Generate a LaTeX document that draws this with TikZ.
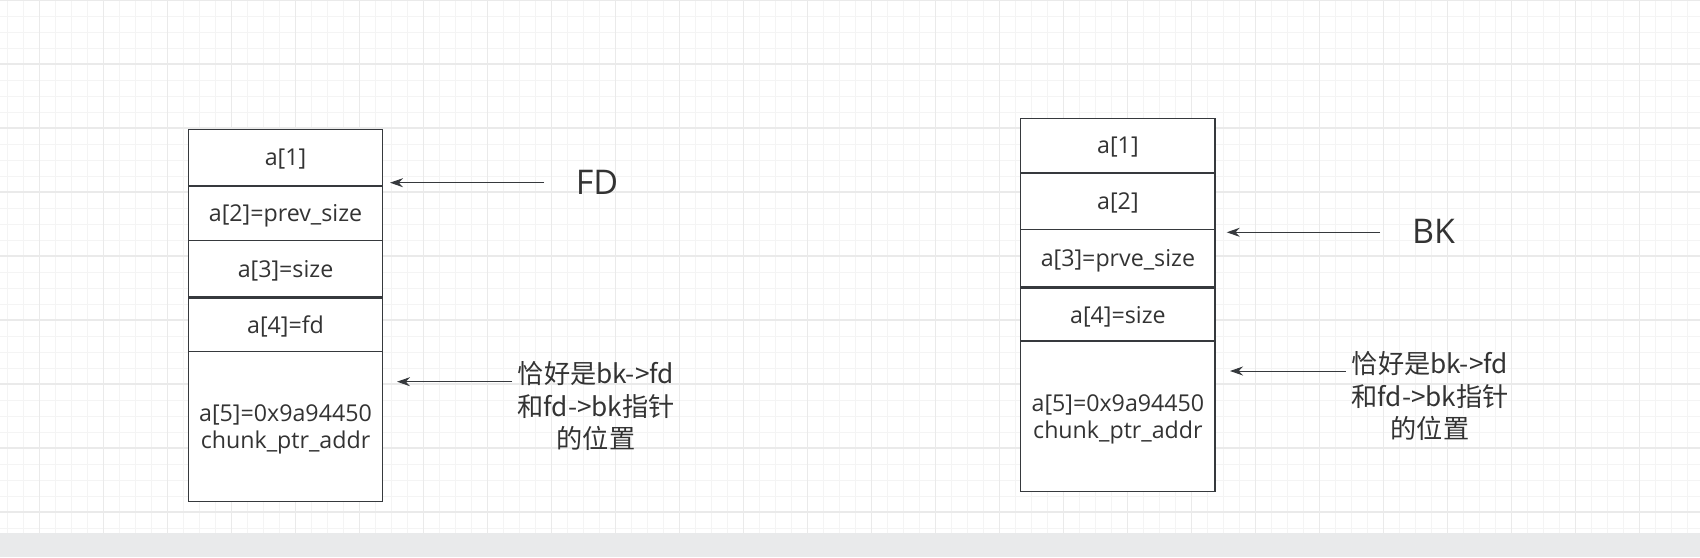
\documentclass[tikz,border=0pt]{standalone}
\usepackage{fontspec}
\setmainfont{Open Sans}
\newfontfamily\cjk{Noto Sans CJK SC}
\usetikzlibrary{arrows.meta}
\definecolor{ink}{HTML}{333333}
\definecolor{edgec}{HTML}{36393D}
\definecolor{gridminor}{HTML}{F4F4F4}
\definecolor{gridmajor}{HTML}{EAEAEA}
\definecolor{band}{HTML}{E9EAEB}
\tikzset{
  cell/.style={draw=edgec, line width=0.65pt, fill=white, inner sep=0pt, text=ink,
    font=\fontsize{11.6}{13.5}\selectfont, align=center, text depth=0pt},
  lbl/.style={text=ink, inner sep=0pt, font=\fontsize{17}{20}\selectfont},
  note/.style={text=ink, inner sep=0pt, align=center, font=\cjk\fontsize{13.1}{16.3}\selectfont},
  arr/.style={draw=edgec, line width=0.5pt, -{Stealth[length=6.5pt,width=4.5pt]}},
}
\begin{document}
\begin{tikzpicture}[x=0.5pt,y=-0.5pt]
\useasboundingbox (0,0) rectangle (1700,557);
\fill[white] (0,0) rectangle (1700,557);
% grid
\foreach \x in {7.5,23.5,...,1700} \draw[gridminor,line width=0.5pt] (\x,0) -- (\x,533);
\foreach \y in {16,32,...,533} \draw[gridminor,line width=0.5pt] (0,\y) -- (1700,\y);
\foreach \x in {39.5,103.5,...,1700} \draw[gridmajor,line width=0.75pt] (\x,0) -- (\x,533);
\foreach \y in {0,64,...,533} \draw[gridmajor,line width=0.75pt] (0,\y) -- (1700,\y);
\fill[band] (0,533) rectangle (1700,557);

% left chunk
\node[cell, minimum width=97.2pt, minimum height=28.35pt] (l1) at (285.5,157.7) {a[1]};
\node[cell, minimum width=97.2pt, minimum height=27.15pt] (l2) at (285.5,213.2) {a[2]=prev\_size};
\node[cell, minimum width=97.2pt, minimum height=28.25pt] (l3) at (285.5,268.5) {a[3]=size};
\node[cell, minimum width=97.2pt, minimum height=26.85pt] (l4) at (285.5,324.8) {a[4]=fd};
\node[cell, minimum width=97.2pt, minimum height=75pt] (l5) at (285.5,426.7) {a[5]=0x9a94450\\chunk\_ptr\_addr};

\node[lbl] (fd) at (597,182) {FD};
\coordinate (fdfrom) at (544,182.7);
\coordinate (fdto) at (390,182.7);
\draw[arr] (fdfrom) -- (fdto);

\node[note] (noteL) at (596,406) {恰好是bk->fd\\和fd->bk指针\\的位置};
\coordinate (nlfrom) at (512,381.7);
\coordinate (nlto) at (397,381.7);
\draw[arr] (nlfrom) -- (nlto);

% right chunk
\node[cell, minimum width=97.15pt, minimum height=27.35pt] (r1) at (1117.9,145.7) {a[1]};
\node[cell, minimum width=97.15pt, minimum height=28.35pt] (r2) at (1117.9,201.3) {a[2]};
\node[cell, minimum width=97.15pt, minimum height=28.55pt] (r3) at (1117.9,258.2) {a[3]=prve\_size};
\node[cell, minimum width=97.15pt, minimum height=26.5pt] (r4) at (1117.9,314.5) {a[4]=size};
\node[cell, minimum width=97.15pt, minimum height=75.35pt] (r5) at (1117.9,416.3) {a[5]=0x9a94450\\chunk\_ptr\_addr};

\node[lbl] (bk) at (1433.5,231.7) {BK};
\coordinate (bkfrom) at (1380,232.3);
\coordinate (bkto) at (1226.7,232.3);
\draw[arr] (bkfrom) -- (bkto);

\node[note] (noteR) at (1430,396) {恰好是bk->fd\\和fd->bk指针\\的位置};
\coordinate (nrfrom) at (1345.7,371);
\coordinate (nrto) at (1230,371);
\draw[arr] (nrfrom) -- (nrto);
\end{tikzpicture}
\end{document}
